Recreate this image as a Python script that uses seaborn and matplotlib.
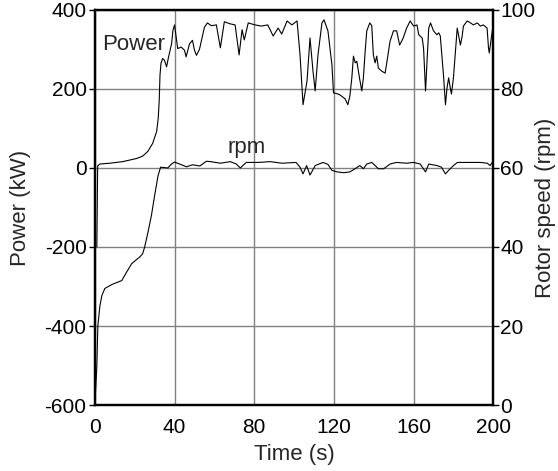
import numpy as np
import pandas as pd
import seaborn as sns
import matplotlib
matplotlib.use("Agg")
import matplotlib.pyplot as plt

# power trace (kW)
power_time = [1.0, 1.4, 2.5, 7.5, 14, 21, 24, 26.6, 29, 31, 31.8, 32.3, 32.7, 33.2, 34, 35, 36, 37,
              38.5, 39.2, 40, 40.8, 41.6, 43.3, 45, 45.8, 47.5, 49, 50, 51, 52.5, 55, 56.5, 58.5,
              61, 63, 65, 67.7, 70.4, 72.4, 73.9, 75, 77, 80.4, 83.5, 86.8, 89.5, 92, 93.8, 96.5,
              98.9, 101.5, 103, 104.5, 106.5, 108, 109.5, 110.6, 112, 114, 115, 117, 119, 119.8,
              121.6, 123, 125.6, 127, 128, 129, 129.8, 130.7, 131.5, 133, 134, 134.8, 135.7,
              136.5, 138, 139, 139.8, 140.7, 141.5, 142.3, 144, 145.7, 146.5, 148.2, 149.9, 151.5,
              153, 154.8, 156.5, 158.3, 160, 161.7, 162.6, 164.3, 165, 166, 166.8, 167.6, 168.5,
              170, 171.7, 172.6, 173.4, 174, 175, 176, 176.8, 177.6, 178.4, 179, 180, 181, 181.9,
              183.5, 184.4, 185, 186.9, 188.6, 190, 192, 193.5, 195, 196.9, 197.6, 198, 199.5, 200]
power_kw = [-200, 5, 10, 12, 16, 24, 30, 42, 62, 92, 125, 170, 235, 265, 277, 272, 256, 281,
            314, 348, 362, 331, 302, 306, 298, 281, 314, 323, 298, 285, 300, 356, 367, 360,
            362, 304, 370, 365, 362, 286, 350, 324, 367, 362, 359, 362, 334, 354, 339, 372,
            362, 372, 286, 160, 220, 329, 245, 195, 286, 367, 375, 347, 261, 190,
            188, 185, 175, 160, 182, 228, 283, 266, 270, 223, 195, 228, 296,
            347, 367, 360, 286, 266, 283, 253, 245, 240, 265, 321, 347, 347,
            311, 329, 354, 372, 359, 362, 337, 329, 304, 195, 276, 354, 367,
            347, 337, 342, 334, 296, 235, 160, 203, 228, 203, 187, 228, 296, 354,
            311, 334, 359, 372, 367, 362, 367, 359, 362, 354, 304, 291, 347, 355]

# rotor speed trace (rpm)
rpm_time = [0, 1, 1.5, 2.5, 3.5, 5, 8.5, 13.5, 16, 18.5, 22.6, 24, 25, 26.7, 28.4, 30, 31.7, 33,
            36.6, 38.5, 40, 42.5, 46, 49, 52.7, 56, 58, 63, 68, 71, 73, 76, 82, 88, 94, 101, 103,
            104.5, 106.3, 108, 110.6, 114.6, 117, 119, 121.6, 125, 128, 130.6, 133, 134.8, 136.5,
            139, 140.7, 142.3, 145, 148.2, 151.5, 156.5, 160, 163.3, 166, 167.6, 171.7, 174, 176,
            177.6, 180, 182, 187, 193.5, 197, 198.4, 199.5, 200]
rpm_val = [0, 10, 20, 25, 27.7, 29.5, 30.5, 31.5, 33.7, 35.8, 37.5, 38.3, 40, 43.8, 48, 53, 58, 60.2,
           60, 61, 61.5, 61, 60.3, 60.8, 60.5, 61.7, 61.6, 61.2, 61.6, 61, 60, 61.4, 61.4, 61.6, 61.2, 61.4, 60.2,
           58.5, 60.6, 58.2, 60.6, 61.4, 60.9, 59.4, 59, 58.8, 59, 59.8, 60.6, 59.8, 61,
           61.4, 60.6, 59.8, 59.8, 61, 61.4, 61.2, 61.4, 61, 59, 61, 60.6, 60.2, 58.5,
           59.4, 60.6, 61.4, 61.4, 61.4, 61.2, 60.6, 61.4, 61.2]

x_ticks = [0, 40, 80, 120, 160, 200]
power_ticks = [-600, -400, -200, 0, 200, 400]
rpm_ticks = [0, 20, 40, 60, 80, 100]

sns.set_style("white")
plt.rcParams['font.family'] = ['Liberation Sans', 'DejaVu Sans']
plt.rcParams['axes.unicode_minus'] = False

fig = plt.figure(figsize=(5.58, 4.71), dpi=100)
ax = fig.add_axes([0.170, 0.140, 0.714, 0.839])
ax2 = ax.twinx()

power_df = pd.DataFrame({'t': power_time, 'p': power_kw})
rpm_df = pd.DataFrame({'t': rpm_time, 'r': rpm_val})

sns.lineplot(data=power_df, x='t', y='p', ax=ax, color='black', linewidth=0.8, zorder=3)
sns.lineplot(data=rpm_df, x='t', y='r', ax=ax2, color='black', linewidth=0.8)

ax.set_xlim(0, 200)
ax.set_ylim(-600, 400)
ax2.set_ylim(0, 100)
ax.set_xticks(x_ticks)
ax.set_yticks(power_ticks)
ax2.set_yticks(rpm_ticks)

ax.grid(True, color='#808080', linewidth=1)
ax2.grid(False)

for a in (ax, ax2):
    for s in a.spines.values():
        s.set_linewidth(1.6)
        s.set_color('black')
    a.tick_params(direction='out', length=4, width=1, labelsize=15, colors='black', pad=2)
ax.tick_params(axis='x', pad=5)
ax2.tick_params(axis='y', pad=1)

ax.set_xlabel('Time (s)', fontsize=16, labelpad=5)
ax.set_ylabel('Power (kW)', fontsize=16, labelpad=10)
ax2.set_ylabel('Rotor speed (rpm)', fontsize=16, labelpad=0)

ax.text(19.5, 312, 'Power', fontsize=16, ha='center', va='center')
ax.text(76, 52, 'rpm', fontsize=16, ha='center', va='center')

fig.savefig('out.png', dpi=100)
